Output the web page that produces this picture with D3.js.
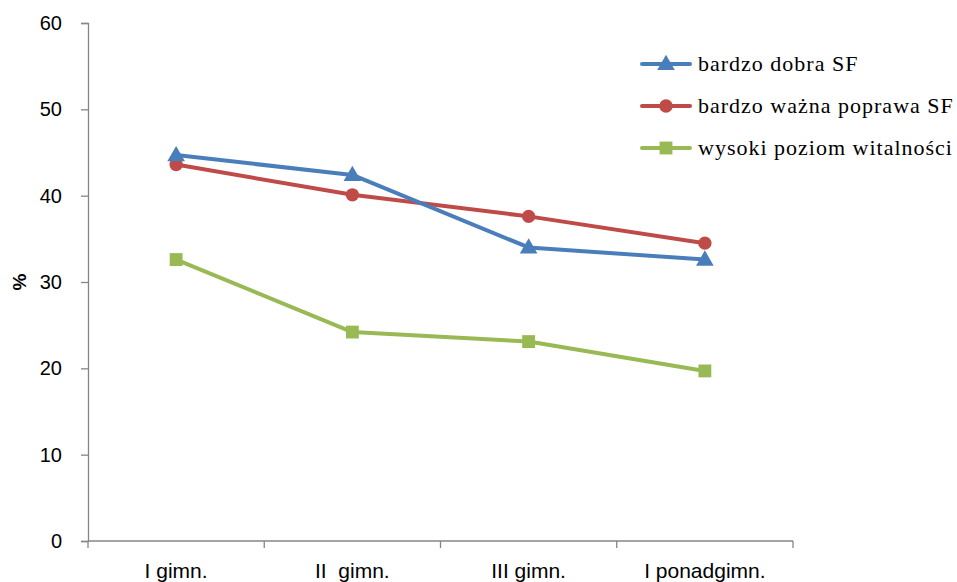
<!DOCTYPE html>
<html>
<head>
<meta charset="utf-8">
<script src="https://cdn.jsdelivr.net/npm/d3@7"></script>
<style>
  body { margin: 0; background: #fff; }
  svg { display: block; }
</style>
</head>
<body>
<div id="chart"></div>
<script>
// categories and series
const categories = ['I gimn.', 'II  gimn.', 'III gimn.', 'I ponadgimn.'];
const seriesNames = ['bardzo dobra SF', 'bardzo ważna poprawa SF', 'wysoki poziom witalności'];
const bardzoDobra = [44.7, 42.4, 34.0, 32.6];
const waznaPoprawa = [43.6, 40.1, 37.6, 34.5];
const witalnosc = [32.6, 24.2, 23.1, 19.7];
const yTicks = [0, 10, 20, 30, 40, 50, 60];

const W = 957, H = 582;
const MARGIN = { top: 23, right: 164, bottom: 41, left: 88 };
const width = W - MARGIN.left - MARGIN.right;
const height = H - MARGIN.top - MARGIN.bottom;

const svg = d3.select('#chart').append('svg')
  .attr('width', W).attr('height', H);

const g = svg.append('g').attr('transform', `translate(${MARGIN.left},${MARGIN.top})`);

const x = d3.scaleBand().domain(categories).range([0, width]);
const y = d3.scaleLinear().domain([0, 60]).range([height, 0]);

const AXIS_COL = '#868686';
const tickFont = '"Liberation Sans", Arial, sans-serif';

// Y axis
const yAxis = g.append('g')
  .call(d3.axisLeft(y).tickValues(yTicks).tickSize(7).tickPadding(19));
yAxis.select('.domain').attr('stroke', AXIS_COL).attr('stroke-width', 1.3);
yAxis.selectAll('.tick line').attr('stroke', AXIS_COL).attr('stroke-width', 1.3);
yAxis.selectAll('text')
  .style('font-family', tickFont).style('font-size', '20px').attr('fill', '#000');

// X axis with ticks at category boundaries
const xAxis = g.append('g').attr('transform', `translate(0,${height})`);
xAxis.append('line')
  .attr('x1', 0).attr('x2', width)
  .attr('stroke', AXIS_COL).attr('stroke-width', 1.3);
const bounds = categories.map(c => x(c)).concat([width]);
xAxis.selectAll('line.tk').data(bounds).join('line').attr('class', 'tk')
  .attr('x1', d => d).attr('x2', d => d).attr('y1', 0).attr('y2', 7)
  .attr('stroke', AXIS_COL).attr('stroke-width', 1.3);
xAxis.selectAll('text').data(categories).join('text')
  .attr('x', d => x(d) + x.bandwidth() / 2).attr('y', 37)
  .attr('text-anchor', 'middle')
  .style('font-family', tickFont).style('font-size', '21px').style('white-space', 'pre')
  .attr('fill', '#000')
  .text(d => d);

// Y label
svg.append('text')
  .attr('transform', 'translate(26,282) rotate(-90)')
  .attr('text-anchor', 'middle')
  .style('font-family', tickFont).style('font-size', '19px').style('font-weight', 'bold')
  .text('%');

const series = [
  { name: seriesNames[0], values: bardzoDobra, color: '#4a7ebb', marker: 'triangle' },
  { name: seriesNames[1], values: waznaPoprawa, color: '#be4b48', marker: 'circle' },
  { name: seriesNames[2], values: witalnosc, color: '#98b954', marker: 'square' }
];

const symbolOf = {
  triangle: d3.symbol().type(d3.symbolTriangle).size(135),
  circle: d3.symbol().type(d3.symbolCircle).size(140),
  square: d3.symbol().type(d3.symbolSquare).size(165)
};

const line = d3.line()
  .x((d, i) => x(categories[i]) + x.bandwidth() / 2)
  .y(d => y(d));

// draw in reverse so blue sits on top
for (const s of series.slice().reverse()) {
  g.append('path')
    .datum(s.values)
    .attr('fill', 'none')
    .attr('stroke', s.color)
    .attr('stroke-width', 4)
    .attr('stroke-linejoin', 'round')
    .attr('d', line);
  g.selectAll(null).data(s.values).join('path')
    .attr('transform', (d, i) => `translate(${x(categories[i]) + x.bandwidth() / 2},${y(d) + (s.marker === 'triangle' ? 1 : 0)})`)
    .attr('d', symbolOf[s.marker])
    .attr('fill', s.color);
}

// Legend
const legend = svg.append('g').attr('transform', 'translate(642,64)');
series.forEach((s, i) => {
  const row = legend.append('g').attr('transform', `translate(0,${i * 42})`);
  row.append('line').attr('x1', 0).attr('x2', 48)
    .attr('stroke', s.color).attr('stroke-width', 4).attr('stroke-linecap', 'round');
  row.append('path').attr('transform', `translate(24,${s.marker === 'triangle' ? 1 : 0})`)
    .attr('d', symbolOf[s.marker]).attr('fill', s.color);
  row.append('text').attr('x', 56).attr('y', 7)
    .style('font-family', '"Liberation Serif", "Times New Roman", serif')
    .style('font-size', '22px')
    .style('letter-spacing', '1px')
    .text(s.name);
});
</script>
</body>
</html>
